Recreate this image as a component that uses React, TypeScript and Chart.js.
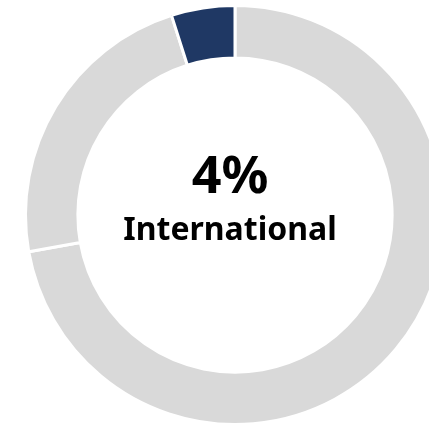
import React, { useEffect, useRef } from "react";
import { Chart, registerables } from "chart.js";

Chart.register(...registerables);

const categories = ["Domestic", "Regional", "International"];
const shares = [72.2, 22.9, 4.9];
const colors = ["#d9d9d9", "#d9d9d9", "#1f3864"];
const centerValue = "4%";
const centerLabel = "International";

export default function App() {
  const ref = useRef<HTMLCanvasElement | null>(null);

  useEffect(() => {
    if (!ref.current) return;
    const chart = new Chart(ref.current, {
      type: "doughnut",
      data: {
        labels: categories,
        datasets: [
          {
            data: shares,
            backgroundColor: colors,
            borderColor: "#ffffff",
            borderWidth: 3,
            hoverOffset: 0,
          },
        ],
      },
      options: {
        animation: false,
        responsive: true,
        maintainAspectRatio: false,
        cutout: "75%",
        layout: { padding: 0 },
        plugins: {
          legend: { display: false },
          tooltip: { enabled: false },
        },
      },
    });
    return () => chart.destroy();
  }, []);

  const font = "'Noto Sans', 'Open Sans', sans-serif";

  return (
    <div
      style={{
        position: "fixed",
        left: 0,
        top: 0,
        width: 429,
        height: 425,
        overflow: "hidden",
        background: "#ffffff",
      }}
    >
      <div style={{ position: "absolute", left: 0, top: 4, width: 470, height: 422 }}>
        <canvas ref={ref} />
      </div>
      <div
        style={{
          position: "absolute",
          left: 130,
          width: 200,
          top: 147,
          textAlign: "center",
          fontFamily: font,
          fontWeight: 700,
          fontSize: 52,
          lineHeight: "52px",
          color: "#000000",
        }}
      >
        {centerValue}
      </div>
      <div
        style={{
          position: "absolute",
          left: 80,
          width: 300,
          top: 212,
          textAlign: "center",
          fontFamily: font,
          fontWeight: 700,
          fontSize: 32,
          lineHeight: "32px",
          color: "#000000",
        }}
      >
        {centerLabel}
      </div>
    </div>
  );
}
